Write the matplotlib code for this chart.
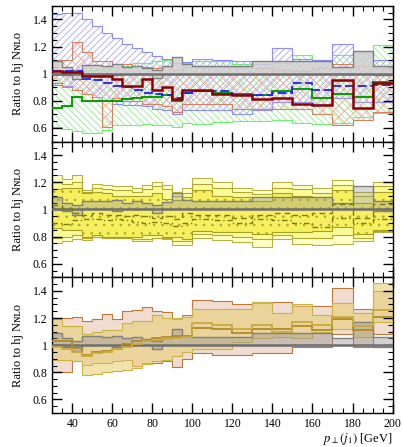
import numpy as np
import matplotlib.pyplot as plt
from matplotlib.ticker import MultipleLocator, FuncFormatter

plt.rcParams['font.family'] = ['Liberation Serif', 'DejaVu Serif']
plt.rcParams['mathtext.fontset'] = 'stix'
plt.rcParams['hatch.linewidth'] = 0.6

# bin edges in pT(j1) [GeV]
edges = [30, 35, 40, 45, 50, 55, 60, 65, 70, 75, 80, 85, 90, 95, 100,
         110, 120, 130, 140, 150, 160, 170, 180, 190, 200]

# reference (hj NNLO) uncertainty band, same in all panels
ref_up = [1.09, 1.05, 1.03, 1.065, 1.065, 1.06, 1.07, 1.05, 1.06, 1.045, 1.03, 1.055, 1.12, 1.07,
          1.06, 1.06, 1.06, 1.09, 1.09, 1.09, 1.09, 1.05, 1.17, 1.06]
ref_lo = [1.0, 0.99, 0.96, 1.0, 1.0, 1.0, 0.99, 1.0, 1.0, 1.0, 0.97, 1.0, 1.0, 1.0,
          1.0, 1.0, 1.0, 1.0, 1.0, 1.0, 1.0, 1.0, 1.0, 0.99]

# ---- top panel
blue_up = [1.44, 1.45, 1.45, 1.40, 1.35, 1.30, 1.26, 1.22, 1.19, 1.16, 1.13, 1.11, 1.08, 1.085,
           1.11, 1.10, 1.09, 1.07, 1.19, 1.11, 1.10, 1.22, 1.17, 1.10]
blue_lo = [0.92, 0.91, 0.88, 0.85, 0.83, 0.80, 0.78, 0.77, 0.77, 0.76, 0.74, 0.73, 0.70, 0.73,
           0.73, 0.73, 0.70, 0.73, 0.79, 0.79, 0.78, 0.82, 0.79, 0.79]
blue_c = [1.02, 1.02, 1.02, 0.96, 0.95, 0.93, 0.91, 0.90, 0.88, 0.86, 0.85, 0.84, 0.82, 0.86,
          0.87, 0.87, 0.84, 0.84, 0.86, 0.93, 0.88, 0.91, 0.91, 0.92]

green_up = [1.03, 1.02, 1.02, 1.03, 1.03, 1.04, 1.05, 1.06, 1.08, 1.08, 1.09, 1.10, 1.03, 1.08,
            1.09, 1.09, 1.07, 1.07, 1.08, 1.14, 1.10, 1.14, 1.15, 1.21]
green_lo = [0.605, 0.59, 0.575, 0.565, 0.565, 0.585, 0.62, 0.62, 0.625, 0.63, 0.62, 0.62, 0.61, 0.64,
            0.63, 0.645, 0.65, 0.65, 0.66, 0.64, 0.63, 0.64, 0.68, 0.71]
green_c = [0.75, 0.76, 0.83, 0.80, 0.80, 0.80, 0.80, 0.81, 0.82, 0.83, 0.83, 0.84, 0.80, 0.86,
           0.87, 0.86, 0.85, 0.84, 0.87, 0.89, 0.82, 0.85, 0.83, 0.94]

salm_up = [1.10, 1.10, 1.23, 1.16, 1.09, 1.09, 1.07, 1.07, 1.06, 1.05, 1.04, 1.05, 1.03, 1.05,
           1.05, 1.05, 1.05, 1.04, 1.03, 1.02, 1.04, 1.07, 1.06, 1.04]
salm_lo = [0.93, 0.90, 0.88, 0.85, 0.80, 0.61, 0.82, 0.80, 0.80, 0.78, 0.78, 0.76, 0.72, 0.78,
           0.78, 0.78, 0.74, 0.74, 0.74, 0.74, 0.70, 0.62, 0.66, 0.72]

red_c = [1.02, 1.01, 1.01, 0.98, 0.98, 0.98, 0.96, 0.91, 0.91, 0.96, 0.88, 0.90, 0.81, 0.88,
         0.88, 0.85, 0.84, 0.81, 0.82, 0.78, 0.77, 0.95, 0.75, 0.93]

# ---- middle panel
ya_up = [1.25, 1.225, 1.25, 1.14, 1.19, 1.18, 1.17, 1.17, 1.155, 1.18, 1.205, 1.18, 1.13, 1.155,
         1.235, 1.20, 1.16, 1.14, 1.20, 1.18, 1.155, 1.22, 1.13, 1.20]
ya_lo = [0.75, 0.77, 0.785, 0.775, 0.795, 0.795, 0.795, 0.79, 0.77, 0.77, 0.79, 0.78, 0.735, 0.74,
         0.79, 0.775, 0.76, 0.725, 0.78, 0.745, 0.74, 0.745, 0.77, 0.83]
yb_up = [1.20, 1.19, 1.20, 1.13, 1.16, 1.15, 1.14, 1.14, 1.13, 1.15, 1.17, 1.15, 1.10, 1.12,
         1.19, 1.16, 1.13, 1.11, 1.16, 1.15, 1.12, 1.18, 1.10, 1.17]
yb_lo = [0.79, 0.80, 0.81, 0.79, 0.80, 0.79, 0.79, 0.79, 0.78, 0.78, 0.79, 0.79, 0.77, 0.77,
         0.82, 0.81, 0.80, 0.78, 0.81, 0.79, 0.79, 0.81, 0.79, 0.84]
yc_up = [1.15, 1.16, 1.16, 1.12, 1.13, 1.12, 1.10, 1.10, 1.10, 1.10, 1.12, 1.08, 1.07, 1.09,
         1.14, 1.10, 1.09, 1.06, 1.12, 1.10, 1.09, 1.14, 1.05, 1.13]
yc_lo = [0.86, 0.85, 0.85, 0.80, 0.81, 0.80, 0.80, 0.80, 0.80, 0.81, 0.81, 0.80, 0.80, 0.78,
         0.84, 0.83, 0.83, 0.82, 0.83, 0.83, 0.84, 0.87, 0.82, 0.85]
ydash = [1.03, 1.01, 0.97, 0.96, 0.97, 0.96, 0.96, 0.95, 0.96, 0.95, 0.94, 0.95, 0.93, 0.97,
         0.96, 0.96, 0.94, 0.96, 0.97, 0.96, 0.97, 1.04, 0.94, 1.04]
ydashdot = [0.90, 0.89, 0.92, 0.93, 0.93, 0.92, 0.93, 0.92, 0.91, 0.90, 0.91, 0.90, 0.88, 0.90,
            0.93, 0.92, 0.90, 0.93, 0.92, 0.90, 0.87, 0.94, 0.90, 0.93]

# ---- bottom panel
tan_up = [1.20, 1.20, 1.21, 1.175, 1.19, 1.23, 1.19, 1.25, 1.26, 1.28, 1.255, 1.245, 1.195, 1.22,
          1.335, 1.325, 1.30, 1.31, 1.32, 1.29, 1.29, 1.42, 1.27, 1.40]
tan_lo = [0.80, 0.80, 0.88, 0.855, 0.87, 0.87, 0.88, 0.89, 0.85, 0.87, 0.87, 0.88, 0.84, 0.90,
          0.945, 0.93, 0.93, 0.94, 0.94, 0.985, 0.99, 1.08, 0.985, 1.08]
gold_up = [1.19, 1.14, 1.14, 1.085, 1.095, 1.11, 1.11, 1.16, 1.18, 1.18, 1.22, 1.20, 1.20, 1.21,
           1.27, 1.27, 1.27, 1.32, 1.24, 1.30, 1.225, 1.31, 1.235, 1.46]
gold_lo = [0.89, 0.89, 0.885, 0.78, 0.785, 0.80, 0.81, 0.82, 0.83, 0.86, 0.88, 0.89, 0.92, 0.95,
           0.97, 0.97, 1.02, 1.05, 1.06, 1.05, 1.10, 1.12, 1.06, 1.17]
gold_c1 = [1.03, 1.03, 0.98, 0.93, 0.95, 0.96, 0.97, 1.01, 1.03, 1.04, 1.05, 1.06, 1.07, 1.07,
           1.13, 1.12, 1.09, 1.12, 1.12, 1.14, 1.11, 1.19, 1.11, 1.21]
gold_c2 = [0.99, 0.97, 0.95, 0.92, 0.94, 0.95, 0.97, 0.99, 1.01, 1.03, 1.04, 1.05, 1.05, 1.06,
           1.16, 1.15, 1.12, 1.15, 1.10, 1.17, 1.15, 1.21, 1.14, 1.26]


def band(ax, lo, up, face, edge, hatch=None, alpha=1.0, lw=0.8, z=1):
    if hatch:
        ax.stairs(up, edges, baseline=lo, fill=True, facecolor='none', edgecolor=face,
                  hatch=hatch, linewidth=0, zorder=z)
    else:
        ax.stairs(up, edges, baseline=lo, fill=True, facecolor=face, alpha=alpha,
                  linewidth=0, zorder=z)
    ax.stairs(up, edges, baseline=None, color=edge, lw=lw, zorder=z + 0.1)
    ax.stairs(lo, edges, baseline=None, color=edge, lw=lw, zorder=z + 0.1)


def line(ax, vals, color, lw=1.2, ls='-', z=5):
    ax.stairs(vals, edges, baseline=None, color=color, lw=lw, ls=ls, zorder=z)


fig, axes = plt.subplots(3, 1, figsize=(4.03, 4.47), dpi=100, sharex=True)
fig.subplots_adjust(left=0.13, right=0.974, bottom=0.076, top=0.987, hspace=0)

ax = axes[0]
band(ax, green_lo, green_up, '#90f090', '#70f070', hatch='\\\\\\\\\\', z=1)
band(ax, blue_lo, blue_up, '#a8a8ff', '#8c8cff', hatch='/////', z=1.2)
band(ax, salm_lo, salm_up, '#eab0a0', '#d88060', hatch='xxx', z=1.4)
band(ax, ref_lo, ref_up, '#d0d0d0', '#808080', alpha=0.85, lw=1.0, z=2)
ax.axhline(1, color='#707070', lw=1.8, zorder=3)
line(ax, green_c, '#00a000', lw=1.4)
line(ax, blue_c, '#2020ff', lw=1.3, ls=(0, (5, 2)))
line(ax, red_c, '#900000', lw=1.8)

ax = axes[1]
band(ax, ya_lo, ya_up, '#ffffc8', '#b8b040', z=1)
band(ax, yb_lo, yb_up, '#fafa98', '#b0a830', z=1.2)
band(ax, yc_lo, yc_up, '#f6f060', '#a8a020', z=1.4)
ax.stairs(yc_up, edges, baseline=yc_lo, fill=True, facecolor='none', edgecolor='#b0a830',
          hatch='..', linewidth=0, zorder=1.5)
band(ax, ref_lo, ref_up, '#909090', '#808080', alpha=0.35, lw=1.0, z=2)
ax.axhline(1, color='#707070', lw=1.8, zorder=3)
line(ax, ydash, '#807810', lw=1.0, ls=(0, (4, 3)))
line(ax, ydashdot, '#807810', lw=1.0, ls=(0, (4, 2, 1, 2)))

ax = axes[2]
band(ax, tan_lo, tan_up, '#f0dcd0', '#c07838', z=1)
band(ax, gold_lo, gold_up, '#e8d078', '#cab444', alpha=0.6, z=1.2)
band(ax, ref_lo, ref_up, '#909090', '#808080', alpha=0.4, lw=1.0, z=2)
ax.axhline(1, color='#707070', lw=1.8, zorder=3)
line(ax, gold_c1, '#b08a28', lw=1.3)
line(ax, gold_c2, '#c8a840', lw=1.3)

for ax in axes:
    ax.set_xlim(30, 200)
    ax.set_ylim(0.5, 1.5)
    ax.yaxis.set_major_locator(MultipleLocator(0.2))
    ax.yaxis.set_minor_locator(MultipleLocator(0.05))
    ax.xaxis.set_major_locator(MultipleLocator(20))
    ax.xaxis.set_minor_locator(MultipleLocator(5))
    ax.yaxis.set_major_formatter(FuncFormatter(lambda v, p: '%g' % v if v < 1.45 and v > 0.55 else ''))
    ax.tick_params(which='both', direction='in', top=True, right=True, labelsize=8.5)
    ax.tick_params(which='major', length=7, width=1)
    ax.tick_params(which='minor', length=3.5, width=0.8)
    for s in ax.spines.values():
        s.set_linewidth(1.0)
    ax.set_ylabel('Ratio to hj N\u0274\u029f\u1d0f', fontsize=9, labelpad=6)

axes[2].set_xlabel(r'$p_\perp(j_1)$ [GeV]', fontsize=9, loc='right', labelpad=1)

fig.savefig('out.png', dpi=100)
